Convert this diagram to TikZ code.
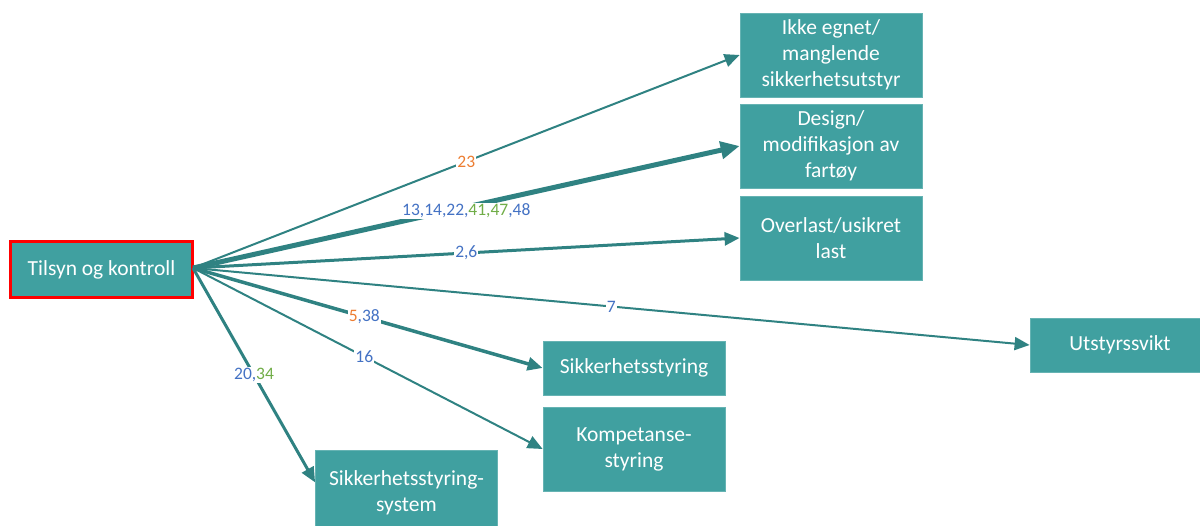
\documentclass[tikz,border=0pt]{standalone}
\usepackage{fontspec}
\setmainfont{Carlito}
\usetikzlibrary{arrows.meta}
\definecolor{boxteal}{HTML}{40A0A0}
\definecolor{lineteal}{HTML}{2F8282}
\definecolor{lblue}{HTML}{4472C4}
\definecolor{lorange}{HTML}{ED7D31}
\definecolor{lgreen}{HTML}{70AD47}
\tikzset{
  tbox/.style={draw=boxteal!80!white, line width=0.8pt, fill=boxteal, text=white,
    font=\fontsize{21.5}{26}\selectfont, align=center, inner sep=0pt,
    minimum width=182pt, minimum height=84pt},
  conn/.style={draw=lineteal, -{Triangle[length=15pt,width=13pt]}},
  lbl/.style={fill=white, inner sep=1pt, font=\fontsize{17.5}{19}\selectfont, text=lblue},
}
\begin{document}
\begin{tikzpicture}[x=1pt,y=-1pt]
\useasboundingbox (0,0) rectangle (1200,526);

% source box
\node[tbox, draw=red, line width=3pt, minimum width=182pt, minimum height=56pt] (src) at (101.5,269.5) {Tilsyn og kontroll};

% target boxes
\node[tbox] (ikke) at (831,55) {Ikke egnet/\\manglende\\sikkerhetsutstyr};
\node[tbox] (design) at (831,146) {Design/\\modifikasjon av\\fartøy};
\node[tbox] (over) at (831,238) {Overlast/usikret\\last};
\node[tbox, minimum width=170pt, minimum height=54pt] (utst) at (1115,345) {\hspace*{10pt}Utstyrssvikt};
\node[tbox, minimum height=54pt] (sstyr) at (634,368) {Sikkerhetsstyring};
\node[tbox] (komp) at (634,449) {Kompetanse-\\styring};
\node[tbox, anchor=north, minimum height=84pt] (ssys) at (406.5,450) {Sikkerhetsstyring-\\system};

% connectors
\coordinate (o) at (193,268);
\draw[conn, line width=2pt] (o) -- (ikke.west)
  node[lbl, pos=0.5, text=lorange] {23};
\draw[conn, line width=5pt, -{Triangle[length=19pt,width=17pt]}] (o) -- (design.west)
  node[lbl, pos=0.5, yshift=-4pt] {13,14,22,\textcolor{lgreen}{41,47},48};
\draw[conn, line width=3pt] (o) -- (over.west)
  node[lbl, pos=0.5] {2,6};
\draw[conn, line width=2pt] (o) -- (utst.west)
  node[lbl, pos=0.5] {7};
\draw[conn, line width=3.5pt] (o) -- (sstyr.west)
  node[lbl, pos=0.49] {\textcolor{lorange}{5},38};
\draw[conn, line width=2pt] (o) -- (komp.west)
  node[lbl, pos=0.49] {16};
\draw[conn, line width=3pt] (o) -- ([yshift=10pt]ssys.west)
  node[lbl, pos=0.5] {20,\textcolor{lgreen}{34}};
\end{tikzpicture}
\end{document}
